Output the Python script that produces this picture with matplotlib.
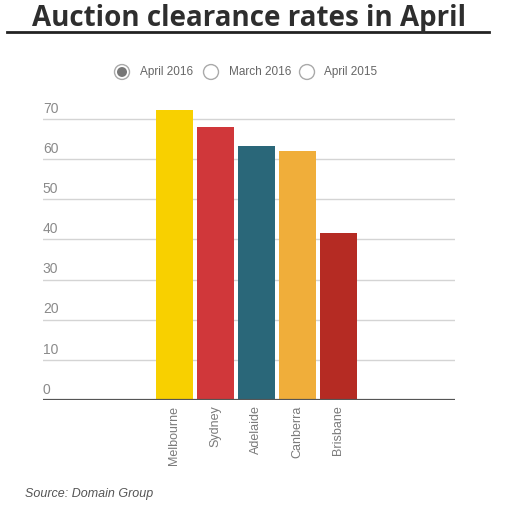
import matplotlib.pyplot as plt
from matplotlib.patches import Circle
from matplotlib.lines import Line2D

cities = ['Melbourne', 'Sydney', 'Adelaide', 'Canberra', 'Brisbane']
rates = [72.3, 68.0, 63.4, 62.1, 41.6]
bar_colors = ['#F8D000', '#D0373A', '#2A6779', '#F0AE3A', '#B52B23']
y_ticks = [0, 10, 20, 30, 40, 50, 60, 70]
legend_labels = ['April 2016', 'March 2016', 'April 2015']

plt.rcParams['font.family'] = ['Liberation Sans', 'DejaVu Sans']

fig = plt.figure(figsize=(5.1, 5.05), dpi=100)
ax = fig.add_axes([0.084, 0.208, 0.808, 0.596])

ax.bar(range(len(cities)), rates, width=0.9, color=bar_colors, zorder=3)
ax.set_xlim(-3.2, 6.85)
ax.set_ylim(0, 75)

# gridlines + labels sitting above them
for v in y_ticks:
    if v > 0:
        ax.axhline(v, color='#d4d4d4', lw=1, zorder=1)
    ax.text(0.0, v + 0.8, str(v), transform=ax.get_yaxis_transform(),
            ha='left', va='bottom', fontsize=10, color='#8a8a8a')
ax.axhline(0, color='#555555', lw=1.6, zorder=4)

ax.set_yticks([])
ax.set_xticks(range(len(cities)))
ax.set_xticklabels(cities, rotation=90, fontsize=9, color='#7a7a7a')
ax.tick_params(axis='x', length=0, pad=4)
for s in ax.spines.values():
    s.set_visible(False)

# title + rule
fig.text(0.489, 0.964, 'Auction clearance rates in April', ha='center', va='center',
         fontsize=20, fontweight='bold', color='#2e2e2e', family=['Open Sans', 'DejaVu Sans'])
fig.add_artist(Line2D([7 / 510, 489 / 510], [1 - 32 / 505, 1 - 32 / 505],
                      color='#222222', lw=2))

# radio-button legend
ly = 1 - 72 / 505
circ_x = [122, 211, 307]
text_x = [140, 229, 324]
for i, (cx, tx, lab) in enumerate(zip(circ_x, text_x, legend_labels)):
    fig.add_artist(Circle((cx / 510, ly), 7.5 / 510, transform=fig.transFigure,
                          facecolor='white', edgecolor='#aaaaaa', lw=1))
    if i == 0:
        fig.add_artist(Circle((cx / 510, ly), 5 / 510, transform=fig.transFigure,
                              facecolor='#777777', edgecolor='none'))
    fig.text(tx / 510, ly, lab, ha='left', va='center', fontsize=8.5, color='#666666')

fig.text(25 / 510, 1 - 494 / 505, 'Source: Domain Group', ha='left', va='center',
         fontsize=9, style='italic', color='#555555')

fig.savefig('out.png', dpi=100)
